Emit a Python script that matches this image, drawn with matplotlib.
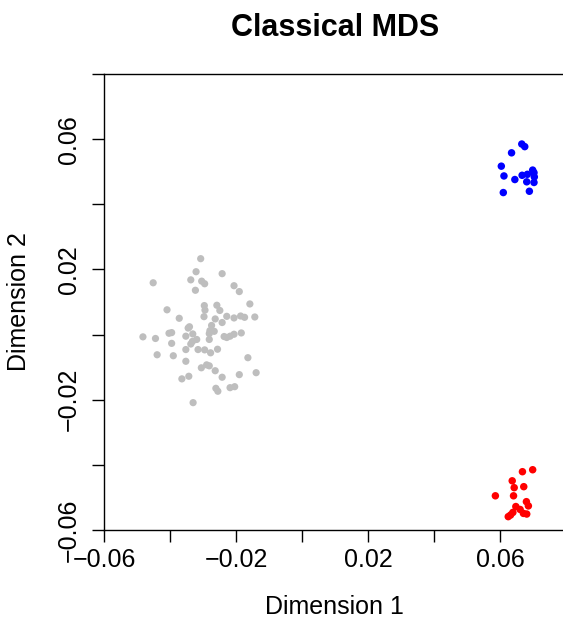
"""Classical MDS scatter, three groups, R base-graphics look."""

import matplotlib
matplotlib.use("Agg")
import matplotlib.pyplot as plt
from matplotlib.ticker import FixedLocator, FixedFormatter

plt.rcParams['font.family'] = ['Liberation Sans', 'DejaVu Sans']

# grey group (big cloud on the left)
gray_x = [-0.0307, -0.0321, -0.0242, -0.0451, -0.0337, -0.0304, -0.0295, -0.0323,
          -0.0206, -0.0190, -0.0158, -0.0296, -0.0258, -0.0409, -0.0294, -0.0249,
          -0.0297, -0.0228, -0.0206, -0.0186, -0.0174, -0.0143, -0.0372, -0.0263,
          -0.0242, -0.0341, -0.0345, -0.0274, -0.0279, -0.0266, -0.0403, -0.0395,
          -0.0331, -0.0352, -0.0281, -0.0236, -0.0218, -0.0206, -0.0184, -0.0228,
          -0.0482, -0.0444, -0.0319, -0.0332, -0.0281, -0.0395, -0.0337, -0.0352,
          -0.0315, -0.0295, -0.0277, -0.0256, -0.0439, -0.0390, -0.0164, -0.0352,
          -0.0305, -0.0289, -0.0281, -0.0263, -0.0364, -0.0343, -0.0242, -0.0190,
          -0.0139, -0.0261, -0.0255, -0.0218, -0.0204, -0.0330]
gray_y = [0.0233, 0.0193, 0.0187, 0.0159, 0.0168, 0.0164, 0.0156, 0.0136,
          0.0150, 0.0132, 0.0094, 0.0089, 0.0090, 0.0076, 0.0075, 0.0074,
          0.0055, 0.0056, 0.0051, 0.0057, 0.0053, 0.0054, 0.0050, 0.0048,
          0.0037, 0.0024, 0.0020, 0.0028, 0.0012, 0.0010, 0.0004, 0.0006,
          0.0002, -0.0005, 0.0003, -0.0006, -0.0005, 0.0001, 0.0005, -0.0009,
          -0.0007, -0.0012, -0.0015, -0.0021, -0.0015, -0.0027, -0.0029, -0.0046,
          -0.0046, -0.0047, -0.0056, -0.0045, -0.0062, -0.0065, -0.0071, -0.0082,
          -0.0102, -0.0093, -0.0096, -0.0111, -0.0136, -0.0128, -0.0131, -0.0123,
          -0.0117, -0.0165, -0.0174, -0.0163, -0.0160, -0.0209]

# blue group (top right)
blue_x = [0.0666, 0.0675, 0.0635, 0.0604, 0.0612, 0.0645, 0.0667, 0.0683,
          0.0699, 0.0703, 0.0704, 0.0703, 0.0681, 0.0689, 0.0610]
blue_y = [0.0585, 0.0577, 0.0558, 0.0517, 0.0487, 0.0476, 0.0489, 0.0492,
          0.0505, 0.0497, 0.0484, 0.0467, 0.0469, 0.0440, 0.0436]

# red group (bottom right)
red_x = [0.0699, 0.0668, 0.0637, 0.0672, 0.0643, 0.0586, 0.0641, 0.0680,
         0.0648, 0.0686, 0.0661, 0.0639, 0.0625, 0.0671, 0.0681, 0.0632]
red_y = [-0.0415, -0.0421, -0.0449, -0.0467, -0.0470, -0.0495, -0.0495, -0.0513,
         -0.0528, -0.0526, -0.0537, -0.0546, -0.0559, -0.0549, -0.0551, -0.0554]

tick_vals = [-0.06, -0.04, -0.02, 0.0, 0.02, 0.04, 0.06, 0.08]
tick_text = ['\u22120.06', '', '\u22120.02', '', '0.02', '', '0.06', '']

W, H = 563, 624
fig = plt.figure(figsize=(W / 100, H / 100), dpi=100)
# box runs a little past the right edge, like the cropped original
ax = fig.add_axes([104 / W, (H - 530) / H, 462 / W, 456 / H])

ax.scatter(gray_x, gray_y, s=27, color='#BEBEBE', edgecolors='none', zorder=3)
ax.scatter(blue_x, blue_y, s=29, color='#0000FF', edgecolors='none', zorder=3)
ax.scatter(red_x, red_y, s=29, color='#FF0000', edgecolors='none', zorder=3)

ax.set_xlim(-0.06, 0.08)
ax.set_ylim(-0.06, 0.08)

for axis in (ax.xaxis, ax.yaxis):
    axis.set_major_locator(FixedLocator(tick_vals))
    axis.set_major_formatter(FixedFormatter(tick_text))

ax.tick_params(direction='out', length=8.6, width=1.0, labelsize=18, color='black')
ax.tick_params(axis='x', pad=4.5)
ax.tick_params(axis='y', pad=8)
for lab in ax.get_yticklabels():
    lab.set_rotation(90)
    lab.set_va('center')

for sp in ax.spines.values():
    sp.set_linewidth(1.0)
    sp.set_color('black')

fig.text(335 / W, 1 - 28 / H, "Classical MDS", ha='center', va='center',
         fontsize=22, fontweight='bold')
fig.text(334 / W, 1 - 607 / H, "Dimension 1", ha='center', va='center', fontsize=18)
fig.text(19 / W, 1 - 302 / H, "Dimension 2", ha='center', va='center',
         fontsize=18, rotation=90)

fig.savefig("out.png", dpi=100)
